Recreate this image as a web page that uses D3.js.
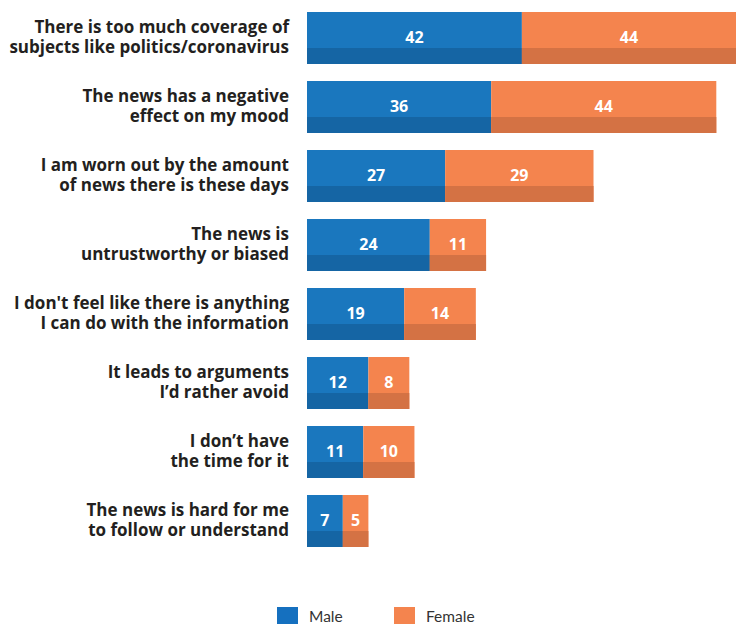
<!DOCTYPE html>
<html>
<head>
<meta charset="utf-8">
<script src="https://cdn.jsdelivr.net/npm/d3@7"></script>
<style>
  html, body { margin: 0; padding: 0; background: #fff; }
  svg { display: block; }
</style>
</head>
<body>
<div id="chart"></div>
<script>
// Reasons for avoiding the news, by gender (%)
const reasons = [
  ["There is too much coverage of", "subjects like politics/coronavirus"],
  ["The news has a negative", "effect on my mood"],
  ["I am worn out by the amount", "of news there is these days"],
  ["The news is", "untrustworthy or biased"],
  ["I don't feel like there is anything", "I can do with the information"],
  ["It leads to arguments", "I\u2019d rather avoid"],
  ["I don\u2019t have", "the time for it"],
  ["The news is hard for me", "to follow or understand"]
];
const male   = [42, 36, 27, 24, 19, 12, 11, 7];
const female = [44, 44, 29, 11, 14, 8, 10, 5];
const seriesNames = ["Male", "Female"];

const W = 736, H = 624;
const colors = { Male: "#1a77be", Female: "#f4844e" };
const shades = { Male: "#1565a4", Female: "#d47244" };

const svg = d3.select("#chart").append("svg")
  .attr("width", W).attr("height", H);

const x = d3.scaleLinear().domain([0, 86]).range([307, 747]);
const y = d3.scaleBand().domain(d3.range(reasons.length))
  .range([12, 547]).paddingInner(17 / 69).paddingOuter(0);

const rows = reasons.map((r, i) => ({
  i, lines: r, Male: male[i], Female: female[i]
}));
const stack = d3.stack().keys(seriesNames)(rows);

const labelFont = "'Open Sans', 'Noto Sans', sans-serif";
const font = "'Open Sans', Lato, sans-serif";

// category labels, two lines right-aligned
const lab = svg.append("g");
rows.forEach(d => {
  const t = lab.append("text")
    .attr("text-anchor", "end")
    .attr("font-family", labelFont)
    .attr("font-weight", 700)
    .attr("font-size", 17)
    .attr("fill", "#231f20");
  d.lines.forEach((ln, k) => {
    t.append("tspan").attr("x", 289).attr("y", y(d.i) + 21 + k * 20).text(ln);
  });
});

const bh = y.bandwidth();
const layers = svg.append("g").selectAll("g").data(stack).join("g");

layers.each(function(s) {
  const g = d3.select(this);
  const key = s.key;
  g.selectAll("rect.main").data(s).join("rect")
    .attr("class", "main")
    .attr("x", d => x(d[0]))
    .attr("y", (d, i) => y(i))
    .attr("width", d => x(d[1]) - x(d[0]))
    .attr("height", bh)
    .attr("fill", colors[key]);
  g.selectAll("rect.base").data(s).join("rect")
    .attr("class", "base")
    .attr("x", d => x(d[0]))
    .attr("y", (d, i) => y(i) + bh - 16)
    .attr("width", d => x(d[1]) - x(d[0]))
    .attr("height", 16)
    .attr("fill", shades[key]);
  g.selectAll("text").data(s).join("text")
    .attr("x", d => (x(d[0]) + Math.min(x(d[1]), W)) / 2)
    .attr("y", (d, i) => y(i) + 31)
    .attr("text-anchor", "middle")
    .attr("font-family", font)
    .attr("font-weight", 700)
    .attr("font-size", 16)
    .attr("fill", "#fff")
    .text(d => d.data[key]);
});

// legend
const legend = svg.append("g");
const legendX = [277, 394];
seriesNames.forEach((k, i) => {
  legend.append("rect")
    .attr("x", legendX[i]).attr("y", 607)
    .attr("width", 21).attr("height", 21)
    .attr("fill", i === 0 ? "#1570bf" : colors[k]);
  legend.append("text")
    .attr("x", legendX[i] + 32).attr("y", 622)
    .attr("font-family", "Lato, sans-serif")
    .attr("font-size", 15.5)
    .attr("fill", "#333")
    .text(k);
});
</script>
</body>
</html>
